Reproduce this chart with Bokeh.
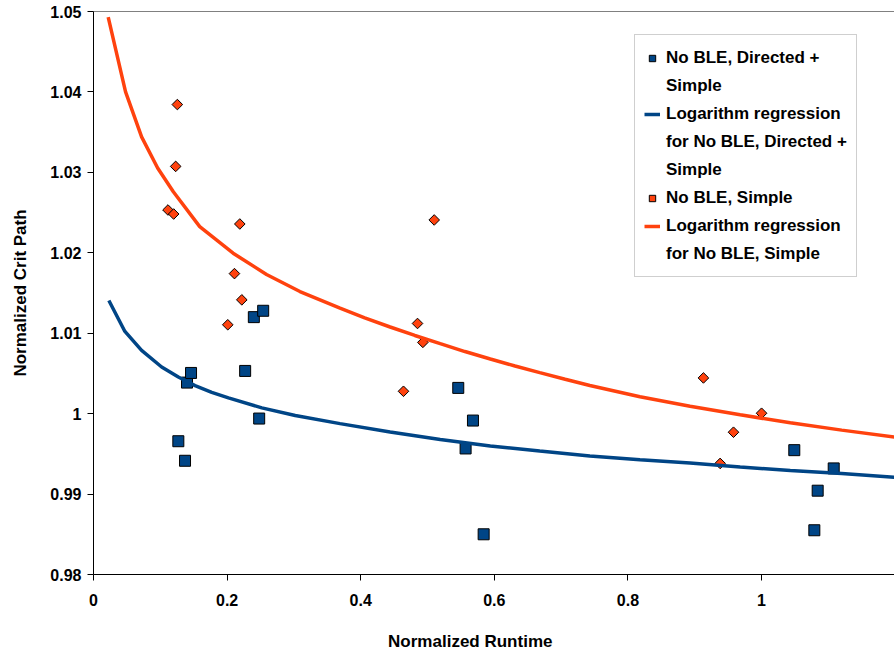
from bokeh.plotting import figure
from bokeh.models import Range1d, FixedTicker, LinearAxis, Legend, LegendItem
from bokeh.embed import file_html
from bokeh.resources import INLINE
import math

# ---- data ----
sq_x = [0.127, 0.137, 0.140, 0.146, 0.227, 0.240, 0.254, 0.248,
        0.546, 0.568, 0.557, 0.584, 1.049, 1.108, 1.084, 1.079]
sq_y = [0.99657, 0.99414, 1.00386, 1.00506, 1.00531, 1.01200, 1.01279, 0.99939,
        1.00320, 0.99914, 0.99567, 0.98500, 0.99546, 0.99319, 0.99042, 0.98550]

dm_x = [0.1255, 0.123, 0.1115, 0.120, 0.219, 0.211, 0.222, 0.201,
        0.510, 0.485, 0.493, 0.464, 0.913, 1.000, 0.958, 0.938]
dm_y = [1.03843, 1.03074, 1.02532, 1.02482, 1.02358, 1.01741, 1.01415, 1.01105,
        1.02408, 1.01121, 1.00886, 1.00278, 1.00444, 1.00005, 0.99769, 0.99381]

blue_reg_x = [0.023, 0.047, 0.072, 0.102, 0.127, 0.152, 0.177, 0.202, 0.252, 0.302, 0.369,
              0.444, 0.519, 0.594, 0.668, 0.743, 0.818, 0.893, 0.968, 1.043, 1.12, 1.199]
blue_reg_y = [1.01407, 1.01022, 1.00786, 1.00580, 1.00455, 1.00348, 1.00265, 1.00196, 1.00072,
              0.99976, 0.99876, 0.99772, 0.99678, 0.99598, 0.99535, 0.99474, 0.99428, 0.99385,
              0.99336, 0.99294, 0.99255, 0.99210]

orange_reg_x = [0.022, 0.048, 0.072, 0.096, 0.1195, 0.159, 0.209, 0.259, 0.309, 0.369, 0.406,
                0.444, 0.481, 0.519, 0.556, 0.594, 0.631, 0.668, 0.706, 0.743, 0.818, 0.893,
                0.968, 1.043, 1.12, 1.199]
orange_reg_y = [1.04930, 1.04000, 1.03441, 1.03055, 1.02759, 1.02325, 1.01995, 1.01730, 1.01518,
                1.01312, 1.01190, 1.01077, 1.00972, 1.00870, 1.00772, 1.00680, 1.00592, 1.00510,
                1.00428, 1.00350, 1.00210, 1.00092, 0.99985, 0.99886, 0.99795, 0.99710]

x_ticks = [0, 0.2, 0.4, 0.6, 0.8, 1.0]
x_tick_labels = ["0", "0.2", "0.4", "0.6", "0.8", "1"]
y_ticks = [0.98, 0.99, 1.0, 1.01, 1.02, 1.03, 1.04, 1.05]
y_tick_labels = ["0.98", "0.99", "1", "1.01", "1.02", "1.03", "1.04", "1.05"]

x_title = "Normalized Runtime"
y_title = "Normalized Crit Path"

# legend entries, one list of text lines per series
series_names = [["No BLE, Directed +", "Simple"],
                ["Logarithm regression", "for No BLE, Directed +", "Simple"],
                ["No BLE, Simple"],
                ["Logarithm regression", "for No BLE, Simple"]]

# layout: horizontal centre of the x title (the reference places it left of the frame centre)
X_TITLE_CENTER = 0.564

BLUE = "#004586"
ORANGE = "#ff420e"
FONT = "Liberation Sans"

p = figure(width=894, height=653, output_backend="svg", toolbar_location=None,
           x_range=Range1d(0, 1.199), y_range=Range1d(0.98, 1.05),
           min_border_left=93, min_border_right=0, min_border_top=11, min_border_bottom=78)
p.xgrid.visible = False
p.ygrid.visible = False
p.outline_line_color = None
p.background_fill_color = "white"
p.border_fill_color = "white"

for ax in (p.xaxis[0], p.yaxis[0]):
    ax.axis_line_color = "black"
    ax.axis_line_width = 1
    ax.major_tick_line_color = "black"
    ax.major_tick_out = 6
    ax.major_tick_in = 0
    ax.minor_tick_line_color = None
    ax.major_label_text_font = FONT
    ax.major_label_text_font_size = "16px"
    ax.major_label_text_font_style = "bold"
    ax.major_label_text_color = "black"
    ax.axis_label_text_font = FONT
    ax.axis_label_text_font_size = "17px"
    ax.axis_label_text_font_style = "bold"
    ax.axis_label_text_color = "black"

p.xaxis.ticker = FixedTicker(ticks=x_ticks)
p.xaxis.major_label_overrides = dict(zip(x_ticks, x_tick_labels))
p.xaxis.major_label_standoff = 13
p.yaxis.ticker = FixedTicker(ticks=y_ticks)
p.yaxis.major_label_overrides = dict(zip(y_ticks, y_tick_labels))
p.yaxis.major_label_standoff = 6
p.yaxis.axis_label = y_title
p.yaxis.axis_label_standoff = 17

# second, line-less axis below the x axis that carries only the x title
title_axis = LinearAxis(ticker=FixedTicker(ticks=[X_TITLE_CENTER]),
                        major_label_overrides={X_TITLE_CENTER: x_title},
                        axis_line_color=None, major_tick_line_color=None,
                        minor_tick_line_color=None, major_tick_out=0, major_tick_in=0,
                        major_label_standoff=23,
                        major_label_text_font=FONT, major_label_text_font_size="17px",
                        major_label_text_font_style="bold", major_label_text_color="black")
p.add_layout(title_axis, "below")

top = LinearAxis(ticker=FixedTicker(ticks=[]), axis_line_color="#808080",
                 major_tick_line_color=None, minor_tick_line_color=None,
                 major_label_text_font_size="0px")
p.add_layout(top, "above")

sq = p.scatter(sq_x, sq_y, marker="square", size=11, fill_color=BLUE,
               line_color="black", line_width=1)
dm = p.scatter(dm_x, dm_y, marker="square", angle=math.pi / 4, size=7.5,
               fill_color=ORANGE, line_color="black", line_width=1)
bl = p.line(blue_reg_x, blue_reg_y, line_color=BLUE, line_width=3.5)
ol = p.line(orange_reg_x, orange_reg_y, line_color=ORANGE, line_width=3.5)

# invisible renderer used for continuation lines of wrapped legend labels
blank = p.scatter(x=[], y=[], marker="square", fill_alpha=0, line_alpha=0)

items = []
for renderer, lines in zip([sq, bl, dm, ol], series_names):
    items.append(LegendItem(label=lines[0], renderers=[renderer]))
    for extra in lines[1:]:
        items.append(LegendItem(label=extra, renderers=[blank]))

legend = Legend(items=items, location=(541, 297))
legend.label_text_font = FONT
legend.label_text_font_size = "17px"
legend.label_text_font_style = "bold"
legend.label_text_color = "black"
legend.glyph_width = 16
legend.glyph_height = 16
legend.label_height = 27
legend.label_standoff = 6
legend.padding = 9
legend.spacing = 1
legend.margin = 0
legend.border_line_color = "#a0a0a0"
legend.border_line_width = 1
legend.background_fill_color = "white"
legend.background_fill_alpha = 1
p.add_layout(legend)

open("out.html", "w").write(file_html(p, INLINE))
